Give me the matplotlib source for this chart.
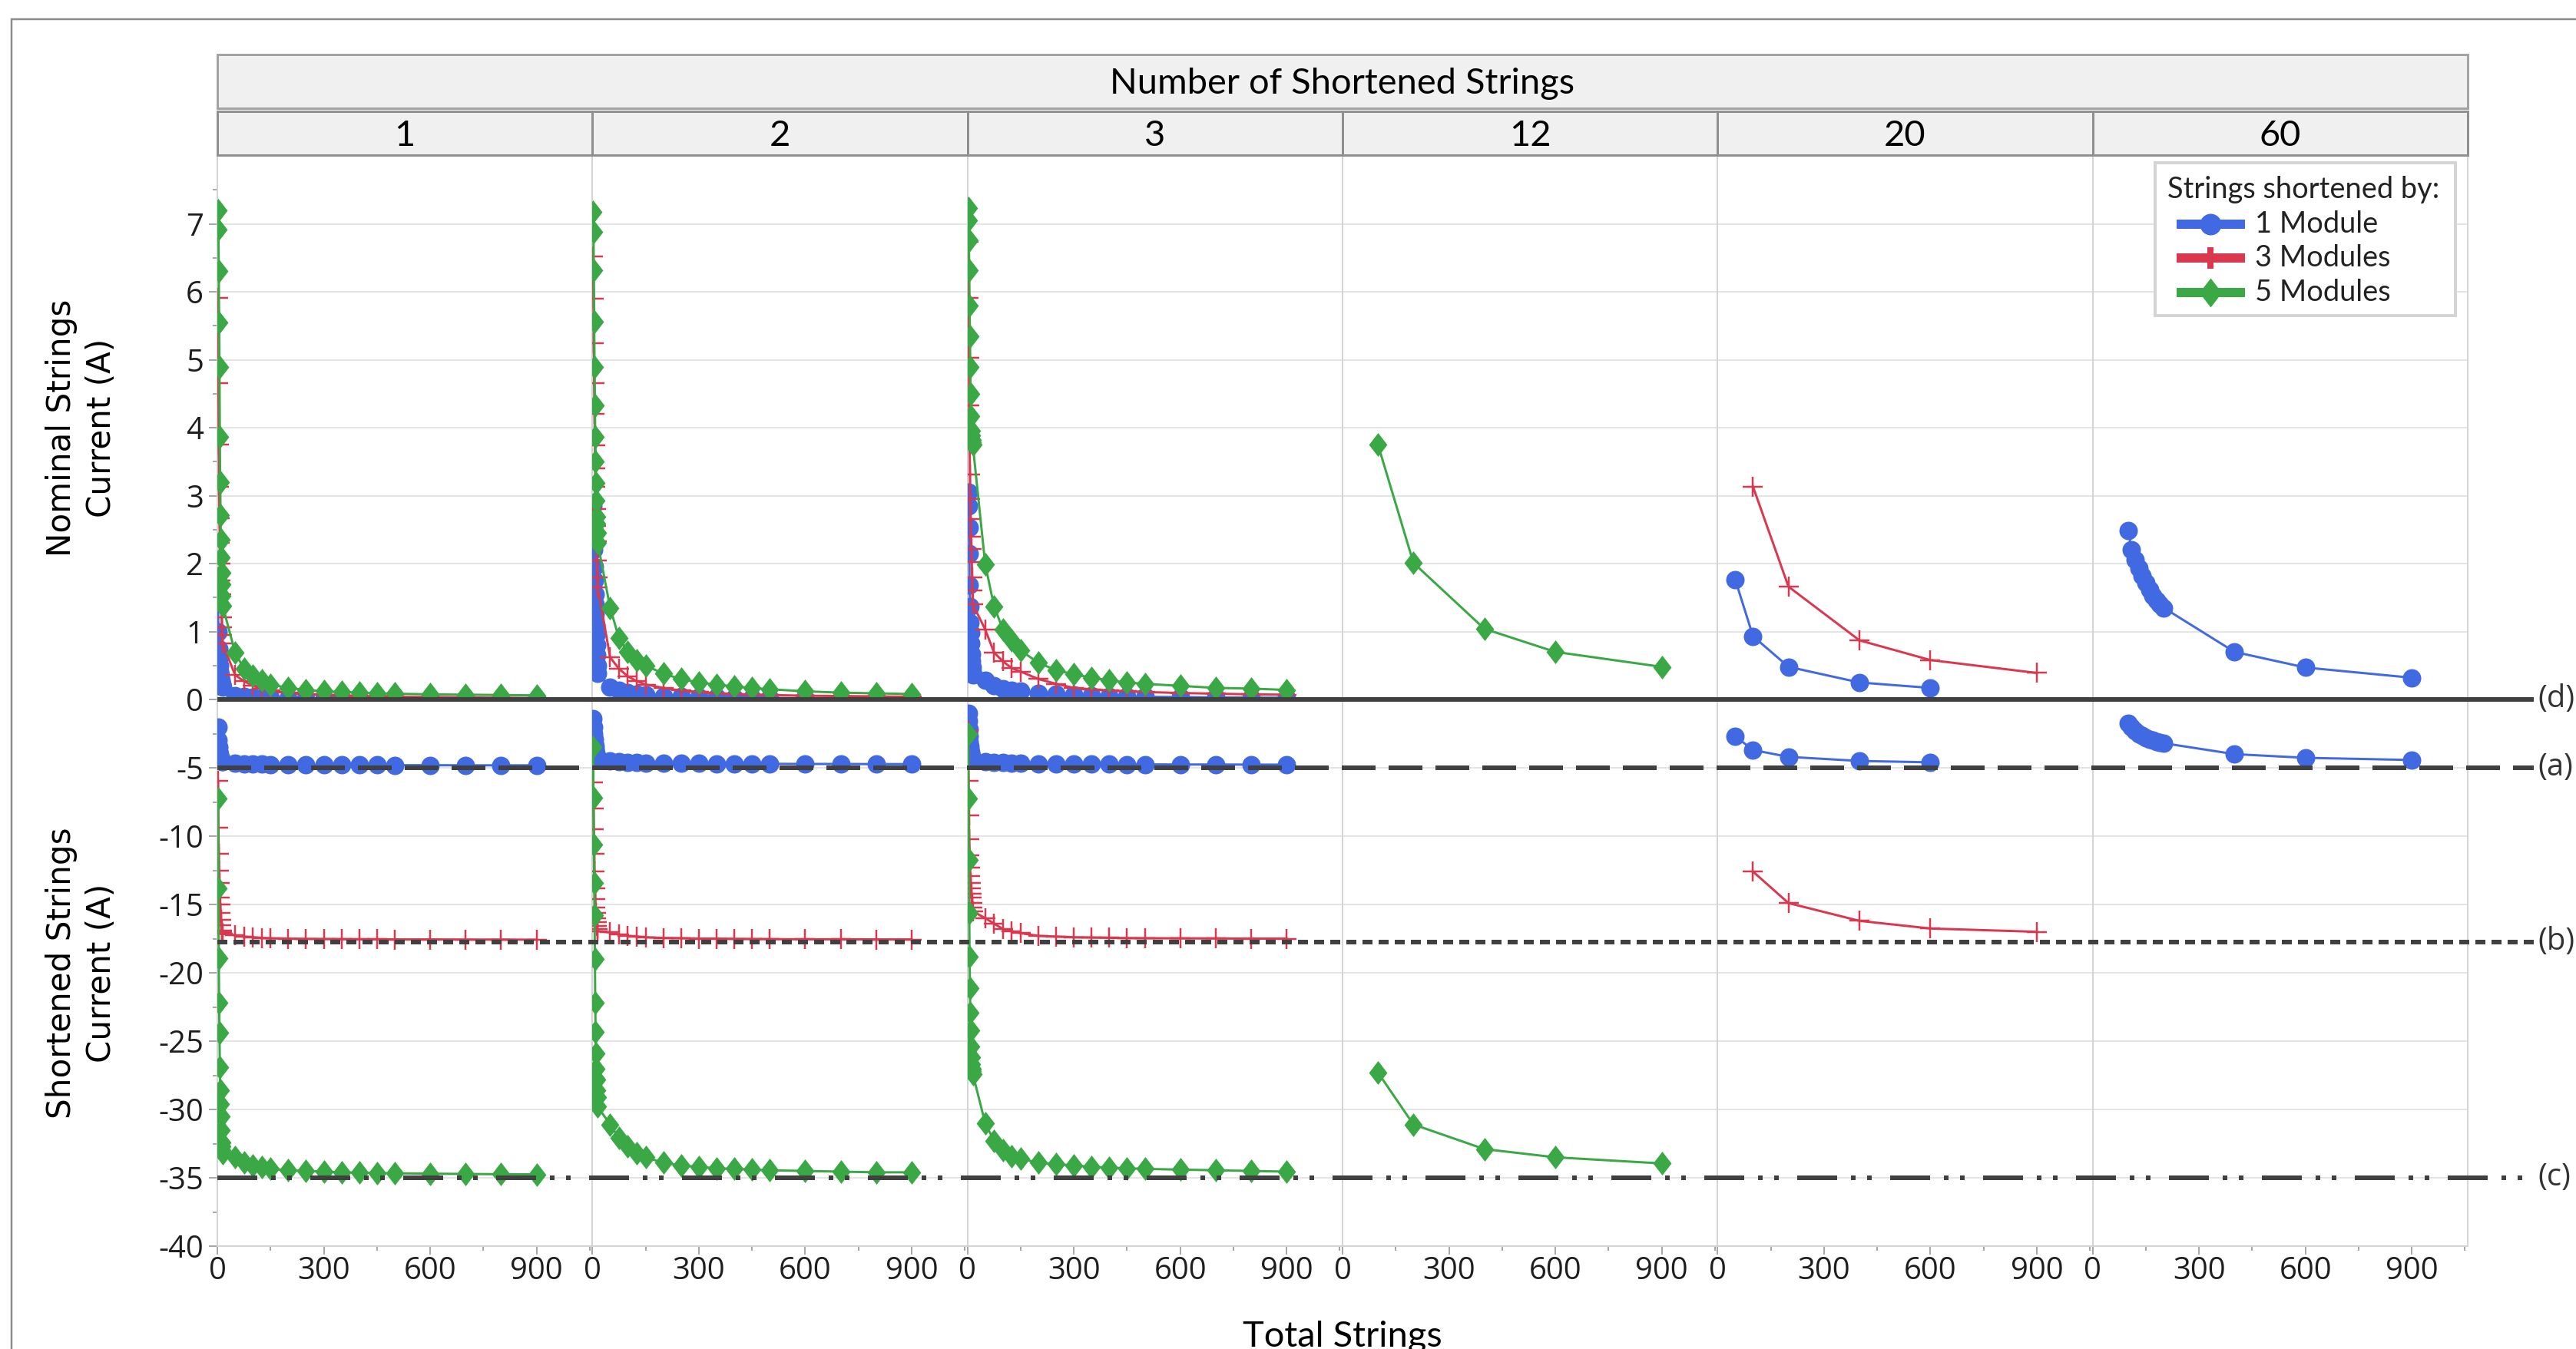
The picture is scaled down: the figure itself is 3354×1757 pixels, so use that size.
import matplotlib
matplotlib.use('Agg')
import matplotlib.pyplot as plt
from matplotlib.path import Path
from matplotlib.patches import Rectangle
from matplotlib.lines import Line2D
import matplotlib.transforms as mtransforms
import numpy as np

# ---------------- data ----------------
PANEL_LABELS = ['1', '2', '3', '12', '20', '60']
TICKS_X = [0, 300, 600, 900]

X_DENSE = [2, 3, 4, 5, 6, 7, 8, 9, 10, 11, 12, 13, 14, 15, 50, 75, 100, 125, 150,
           200, 250, 300, 350, 400, 450, 500, 600, 700, 800, 900]

# panel "1"
B1U = [1.45, 1.0, 0.75, 0.6, 0.5, 0.42, 0.36, 0.32, 0.28, 0.25, 0.23, 0.21, 0.19, 0.18, 0.06, 0.04,
       0.03, 0.025, 0.02, 0.016, 0.013, 0.011, 0.01, 0.009, 0.008, 0.007, 0.006, 0.005, 0.005, 0.004]
B1L = [-2.0, -3.0, -3.5, -3.8, -4.0, -4.15, -4.25, -4.35, -4.4, -4.45, -4.5, -4.52, -4.55, -4.57, -4.65,
       -4.7, -4.72, -4.74, -4.75, -4.77, -4.78, -4.79, -4.8, -4.8, -4.8, -4.81, -4.81, -4.82, -4.82, -4.82]
R1U = [5.91, 4.66, 3.75, 3.13, 2.67, 2.3, 2.0, 1.75, 1.55, 1.38, 1.21, 1.06, 0.95, 0.82, 0.36, 0.27,
       0.2, 0.16, 0.13, 0.1, 0.08, 0.07, 0.06, 0.05, 0.045, 0.04, 0.035, 0.03, 0.025, 0.02]
R1L = [-5.97, -9.4, -11.3, -12.5, -13.4, -14.5, -15.0, -15.6, -16.1, -16.5, -16.9, -17.0, -17.1, -17.15,
       -17.25, -17.35, -17.4, -17.45, -17.48, -17.5, -17.52, -17.53, -17.54, -17.55, -17.55, -17.56,
       -17.56, -17.57, -17.57, -17.58]
G1U = [7.2, 6.92, 6.3, 5.55, 4.89, 3.87, 3.2, 2.71, 2.35, 2.09, 1.86, 1.69, 1.53, 1.38, 0.69, 0.45,
       0.35, 0.28, 0.22, 0.17, 0.14, 0.12, 0.11, 0.1, 0.09, 0.085, 0.075, 0.07, 0.065, 0.06]
G1L = [-7.25, -13.8, -18.96, -22.2, -24.4, -26.9, -28.6, -29.6, -30.5, -31.5, -32.4, -32.7, -33.0, -33.2,
       -33.5, -33.9, -34.1, -34.2, -34.35, -34.45, -34.5, -34.55, -34.6, -34.62, -34.65, -34.67, -34.7,
       -34.72, -34.74, -34.75]

# panel "2"
B2U = [2.85, 2.5, 2.2, 1.95, 1.75, 1.55, 1.4, 1.25, 1.1, 0.95, 0.8, 0.65, 0.5, 0.38, 0.18, 0.13,
       0.1, 0.08, 0.07, 0.05, 0.04, 0.035, 0.03, 0.027, 0.024, 0.022, 0.018, 0.015, 0.013, 0.012]
B2L = [-1.4, -2.0, -2.5, -2.9, -3.2, -3.45, -3.65, -3.8, -3.95, -4.05, -4.15, -4.25, -4.3, -4.35, -4.5,
       -4.55, -4.6, -4.62, -4.64, -4.66, -4.68, -4.69, -4.7, -4.7, -4.71, -4.71, -4.72, -4.72, -4.73, -4.73]
R2U = [6.52, 5.9, 5.24, 4.65, 4.2, 3.74, 3.4, 3.13, 2.8, 2.55, 2.33, 2.04, 1.8, 1.65, 0.62, 0.45,
       0.34, 0.27, 0.22, 0.17, 0.13, 0.11, 0.09, 0.08, 0.07, 0.065, 0.055, 0.05, 0.045, 0.04]
R2L = [-6.05, -8.0, -9.5, -11.3, -12.6, -13.8, -14.6, -15.2, -15.6, -16.0, -16.3, -16.6, -16.8, -16.95,
       -17.05, -17.2, -17.3, -17.35, -17.4, -17.45, -17.47, -17.5, -17.5, -17.52, -17.53, -17.54, -17.55,
       -17.55, -17.56, -17.56]
G2U = [7.18, 6.88, 6.32, 5.56, 4.89, 4.33, 3.87, 3.5, 3.19, 2.93, 2.69, 2.59, 2.45, 2.3, 1.35, 0.9,
       0.7, 0.58, 0.5, 0.38, 0.3, 0.25, 0.22, 0.19, 0.17, 0.15, 0.12, 0.1, 0.09, 0.08]
G2L = [-3.5, -7.2, -10.6, -13.4, -15.8, -18.97, -22.2, -24.35, -25.9, -27.0, -27.8, -28.6, -29.1, -29.8,
       -31.1, -32.1, -32.7, -33.2, -33.5, -33.9, -34.1, -34.2, -34.3, -34.35, -34.4, -34.45, -34.5,
       -34.55, -34.6, -34.6]

# panel "3"
B3U = [3.05, 2.85, 2.53, 2.15, 1.68, 1.37, 1.13, 0.98, 0.82, 0.67, 0.56, 0.48, 0.42, 0.36, 0.28, 0.2,
       0.16, 0.14, 0.12, 0.09, 0.075, 0.065, 0.055, 0.05, 0.045, 0.04, 0.035, 0.03, 0.027, 0.025]
B3L = [-1.0, -1.6, -2.2, -2.7, -3.1, -3.4, -3.65, -3.85, -4.0, -4.15, -4.25, -4.35, -4.4, -4.45, -4.55,
       -4.6, -4.63, -4.65, -4.67, -4.7, -4.71, -4.72, -4.73, -4.74, -4.75, -4.75, -4.76, -4.76, -4.77, -4.77]
R3U = [6.74, 5.91, 5.03, 4.33, 3.8, 3.31, 2.95, 2.66, 2.4, 2.22, 2.02, 1.8, 1.6, 1.4, 1.03, 0.69,
       0.56, 0.46, 0.41, 0.3, 0.23, 0.17, 0.15, 0.13, 0.12, 0.11, 0.095, 0.085, 0.075, 0.07]
R3L = [-2.3, -5.97, -8.5, -10.2, -11.4, -12.3, -12.9, -13.4, -13.8, -14.2, -14.5, -14.9, -15.2, -15.5,
       -16.0, -16.4, -16.8, -16.95, -17.1, -17.3, -17.35, -17.4, -17.42, -17.44, -17.46, -17.47, -17.48,
       -17.49, -17.5, -17.5]
G3U = [7.23, 7.05, 6.76, 6.32, 5.8, 5.34, 4.89, 4.5, 4.17, 3.95, 3.89, 3.82, 3.78, 3.75, 1.99, 1.37,
       1.03, 0.87, 0.72, 0.54, 0.43, 0.37, 0.32, 0.28, 0.25, 0.23, 0.2, 0.17, 0.16, 0.14]
G3L = [-2.5, -7.25, -11.75, -15.6, -18.8, -21.1, -22.9, -24.2, -25.4, -26.2, -26.7, -27.0, -27.2, -27.4,
       -31.0, -32.3, -33.0, -33.4, -33.6, -33.9, -34.0, -34.1, -34.2, -34.25, -34.3, -34.35, -34.4,
       -34.45, -34.5, -34.55]

# panel "12"
X12 = [100, 200, 400, 600, 900]
G12U = [3.75, 2.01, 1.04, 0.70, 0.48]
G12L = [-27.3, -31.1, -32.9, -33.5, -33.95]

# panel "20"
X20_B = [50, 100, 200, 400, 600]
B20U = [1.76, 0.93, 0.48, 0.25, 0.17]
B20L = [-2.7, -3.7, -4.2, -4.5, -4.6]
X20_R = [100, 200, 400, 600, 900]
R20U = [3.13, 1.66, 0.87, 0.58, 0.39]
R20L = [-12.6, -14.9, -16.2, -16.76, -17.0]

# panel "60"
X60 = [100, 110, 120, 130, 140, 150, 160, 170, 180, 190, 200, 400, 600, 900]
B60U = [2.49, 2.2, 2.06, 1.93, 1.82, 1.72, 1.62, 1.53, 1.46, 1.4, 1.35, 0.7, 0.47, 0.32]
B60L = [-1.75, -2.05, -2.3, -2.5, -2.65, -2.8, -2.9, -3.0, -3.07, -3.14, -3.2, -4.0, -4.27, -4.43]

SERIES_NAMES = ['1 Module', '3 Modules', '5 Modules']
REF_LEVELS = {'(d)': 0.0, '(a)': -5.0, '(b)': -17.75, '(c)': -35.0}

PANEL_SERIES = [
    [(X_DENSE, B1U, B1L, 0), (X_DENSE, R1U, R1L, 1), (X_DENSE, G1U, G1L, 2)],
    [(X_DENSE, B2U, B2L, 0), (X_DENSE, R2U, R2L, 1), (X_DENSE, G2U, G2L, 2)],
    [(X_DENSE, B3U, B3L, 0), (X_DENSE, R3U, R3L, 1), (X_DENSE, G3U, G3L, 2)],
    [(X12, G12U, G12L, 2)],
    [(X20_B, B20U, B20L, 0), (X20_R, R20U, R20L, 1)],
    [(X60, B60U, B60L, 0)],
]

# ---------------- styling ----------------
W, H = 3354, 1757
DPI = 100
PX = 72.0 / DPI  # points per pixel

plt.rcParams['font.family'] = ['Open Sans', 'DejaVu Sans']
plt.rcParams['lines.scale_dashes'] = False
plt.rcParams['axes.unicode_minus'] = False

COLORS = ['#4169e1', '#d9384f', '#3aa845']
diamond = Path([(0, 1), (0.77, 0), (0, -1), (-0.77, 0), (0, 1)],
               [Path.MOVETO, Path.LINETO, Path.LINETO, Path.LINETO, Path.CLOSEPOLY])
MARKERS = [dict(marker='o', markersize=24 * PX, markeredgewidth=0),
           dict(marker='+', markersize=27 * PX, markeredgewidth=2.5 * PX),
           dict(marker=diamond, markersize=31 * PX, markeredgewidth=0)]

fig = plt.figure(figsize=(W / DPI, H / DPI), dpi=DPI)
fig.patch.set_facecolor('white')


def fx(x):
    return x / W


def fy(y):
    return 1 - y / H


PANEL_L = 283.0
PANEL_W = 488.33
TOP, MID, BOT = 203.0, 911.0, 1623.0
XMAX = PANEL_W / 0.4617
TICK_FS = 40 * PX
GRID_C = '#e4e4e4'
SPINE_C = '#d4d4d4'
TICK_C = '#a8a8a8'
TEXT_C = '#1e1e1e'

upper_axes, lower_axes = [], []
for i in range(6):
    left = PANEL_L + i * PANEL_W
    au = fig.add_axes([fx(left), fy(MID), PANEL_W / W, (MID - TOP) / H])
    al = fig.add_axes([fx(left), fy(BOT), PANEL_W / W, (BOT - MID) / H])
    upper_axes.append(au)
    lower_axes.append(al)
    for ax, is_up in ((au, True), (al, False)):
        ax.set_xlim(0, XMAX)
        if is_up:
            ax.set_ylim(0, 8.0)
            ax.set_yticks(range(0, 8))
            ax.set_yticks(np.arange(0.5, 8.0, 1.0), minor=True)
        else:
            ax.set_ylim(-40, 0)
            ax.set_yticks(range(-40, -4, 5))
            ax.set_yticks(np.arange(-37.5, 0, 5), minor=True)
        ax.set_xticks(TICKS_X)
        ax.set_xticks([150, 450, 750, 1050], minor=True)
        ax.yaxis.grid(True, which='major', color=GRID_C, lw=2 * PX)
        ax.set_axisbelow(True)
        for s in ax.spines.values():
            s.set_color(SPINE_C)
            s.set_linewidth(2 * PX)
        ax.spines['top'].set_visible(False)
        ax.spines['right'].set_visible(i == 5)
        ax.spines['bottom'].set_visible(not is_up)
        ax.tick_params(which='both', direction='out', color=TICK_C, width=2 * PX,
                       labelsize=TICK_FS, labelcolor=TEXT_C)
        ax.tick_params(which='major', length=11 * PX)
        ax.tick_params(which='minor', length=6 * PX)
        ax.tick_params(axis='y', pad=7 * PX)
        ax.tick_params(axis='x', pad=2 * PX)
        if i != 0:
            ax.tick_params(axis='y', which='both', left=False, labelleft=False)
        if is_up:
            ax.tick_params(axis='x', which='both', bottom=False, labelbottom=False)

    for (xs, yu, yl, k) in PANEL_SERIES[i]:
        for ax, ys in ((au, yu), (al, yl)):
            ax.plot(xs, ys, color=COLORS[k], lw=3 * PX, markerfacecolor=COLORS[k],
                    markeredgecolor=COLORS[k], zorder=3 + k, **MARKERS[k])

# ---------------- reference lines ----------------
trans = mtransforms.blended_transform_factory(fig.transFigure, lower_axes[0].transData)
REF_STYLES = {
    '(d)': '-',
    '(a)': (0, (44 * PX, 17 * PX)),
    '(b)': (0, (13 * PX, 8 * PX)),
    '(c)': (0, (52 * PX, 18 * PX, 6 * PX, 15 * PX, 6 * PX, 24 * PX)),
}
for name, lvl in REF_LEVELS.items():
    ln = Line2D([fx(PANEL_L), fx(3299)], [lvl, lvl], transform=trans, color='#404040',
                lw=6 * PX, linestyle=REF_STYLES[name], solid_capstyle='butt',
                dash_capstyle='butt', zorder=10)
    fig.add_artist(ln)
    fig.text(fx(3304), lvl, name, transform=trans, ha='left', va='center',
             fontsize=TICK_FS, color='#333333')

# ---------------- outer frame, headers ----------------
fig.add_artist(Rectangle((fx(14.5), fy(2000)), 1.2, (2000 - 25) / H, transform=fig.transFigure,
                         fill=False, edgecolor='#8c8c8c', lw=2.5 * PX))
HEAD_FONT = ['Lato', 'DejaVu Sans']
fig.add_artist(Rectangle((fx(PANEL_L), fy(141)), 6 * PANEL_W / W, 70 / H, transform=fig.transFigure,
                         facecolor='#f0f0f0', edgecolor='#a3a3a3', lw=3 * PX))
fig.text(fx(PANEL_L + 3 * PANEL_W), fy(109), 'Number of Shortened Strings', ha='center',
         va='center', fontsize=47 * PX, family=HEAD_FONT, color='black')
for i, lab in enumerate(PANEL_LABELS):
    left = PANEL_L + i * PANEL_W
    fig.add_artist(Rectangle((fx(left), fy(202)), PANEL_W / W, 57 / H, transform=fig.transFigure,
                             facecolor='#f0f0f0', edgecolor='#8f8f8f', lw=3 * PX))
    fig.text(fx(left + PANEL_W / 2), fy(177), lab, ha='center', va='center',
             fontsize=47 * PX, family=HEAD_FONT, color='black')

# axis titles
LAB_FONT = ['DejaVu Sans']
fig.text(fx(106), fy((TOP + MID) / 2), 'Nominal Strings\nCurrent (A)', rotation=90,
         ha='center', va='center', multialignment='center', fontsize=42 * PX,
         family=LAB_FONT, linespacing=1.3, color='black')
fig.text(fx(106), fy((MID + BOT) / 2), 'Shortened Strings\nCurrent (A)', rotation=90,
         ha='center', va='center', multialignment='center', fontsize=42 * PX,
         family=LAB_FONT, linespacing=1.3, color='black')
fig.text(fx(PANEL_L + 3 * PANEL_W), fy(1720), 'Total Strings', ha='center', va='top',
         fontsize=47 * PX, family=HEAD_FONT, color='black')

# ---------------- legend ----------------
fig.add_artist(Rectangle((fx(2806), fy(411)), (3197 - 2806) / W, (411 - 212) / H,
                         transform=fig.transFigure, facecolor='white', edgecolor='#d4d4d4',
                         lw=4 * PX, zorder=20))
fig.text(fx(2822), fy(247), 'Strings shortened by:', ha='left', va='center',
         fontsize=38 * PX, family=HEAD_FONT, color='#222222', zorder=21)
LEG_MARKERS = [dict(marker='o', markersize=28 * PX, markeredgewidth=0),
               dict(marker='+', markersize=28 * PX, markeredgewidth=8 * PX),
               dict(marker=diamond, markersize=38 * PX, markeredgewidth=0)]
for k, (name, yy) in enumerate(zip(SERIES_NAMES, [292, 336, 381])):
    fig.add_artist(Line2D([fx(2834), fx(2923)], [fy(yy), fy(yy)], transform=fig.transFigure,
                          color=COLORS[k], lw=12 * PX, solid_capstyle='butt', zorder=21))
    fig.add_artist(Line2D([fx(2878)], [fy(yy)], transform=fig.transFigure, color=COLORS[k],
                          markerfacecolor=COLORS[k], markeredgecolor=COLORS[k], lw=0,
                          zorder=22, **LEG_MARKERS[k]))
    fig.text(fx(2936), fy(yy), name, ha='left', va='center', fontsize=38 * PX,
             family=HEAD_FONT, color='#222222', zorder=21)

fig.savefig('out.png', dpi=DPI, facecolor='white')
